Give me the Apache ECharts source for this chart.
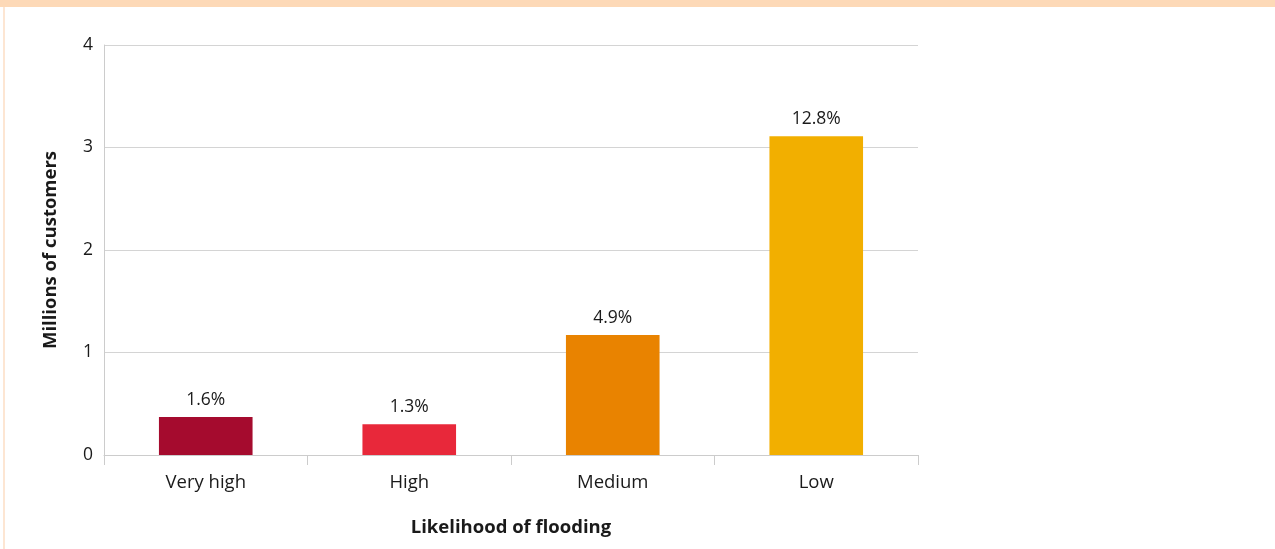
<!DOCTYPE html>
<html>
<head>
<meta charset="utf-8">
<script src="https://cdn.jsdelivr.net/npm/echarts@6/dist/echarts.min.js"></script>
<style>
  html, body { margin: 0; padding: 0; background: #ffffff; }
  #chart { width: 1275px; height: 549px; }
</style>
</head>
<body>
<div id="chart"></div>
<script>
// Flood likelihood categories and customer counts (millions)
const categories = ['Very high', 'High', 'Medium', 'Low'];
const customers = [0.37, 0.30, 1.17, 3.11];
const shareLabels = ['1.6%', '1.3%', '4.9%', '12.8%'];
const barColors = ['#a50b2e', '#e8283a', '#e98300', '#f2af00'];
const yTicks = [0, 1, 2, 3, 4];

const fontFamily = '"Open Sans", "Noto Sans", sans-serif';
const chart = echarts.init(document.getElementById('chart'), null, { renderer: 'canvas' });

chart.setOption({
  backgroundColor: '#ffffff',
  animation: false,
  graphic: [
    { type: 'rect', left: 0, top: 0, shape: { width: 1275, height: 7 }, style: { fill: '#fdd9b7' }, z: 10 },
    { type: 'rect', left: 3, top: 7, shape: { width: 2, height: 542 }, style: { fill: '#fde6d3' }, z: 10 }
  ],
  grid: { left: 104, right: 357, top: 45, bottom: 94 },
  xAxis: {
    type: 'category',
    data: categories,
    name: 'Likelihood of flooding',
    nameLocation: 'middle',
    nameGap: 63,
    nameTextStyle: { fontFamily, fontSize: 18.5, fontWeight: 'bold', color: '#1a1a1a' },
    axisLine: { lineStyle: { color: '#cccccc', width: 1 } },
    axisTick: { show: true, length: 10, lineStyle: { color: '#cccccc' } },
    axisLabel: { fontFamily, fontSize: 18.5, color: '#1a1a1a', margin: 18 }
  },
  yAxis: {
    type: 'value',
    min: yTicks[0],
    max: yTicks[yTicks.length - 1],
    interval: 1,
    name: 'Millions of customers',
    nameLocation: 'middle',
    nameGap: 44,
    nameTextStyle: { fontFamily, fontSize: 18.5, fontWeight: 'bold', color: '#1a1a1a' },
    axisLine: { show: true, lineStyle: { color: '#cccccc', width: 1 } },
    axisTick: { show: false },
    splitLine: { lineStyle: { color: '#d4d4d4', width: 1 } },
    axisLabel: { fontFamily, fontSize: 17.5, color: '#1a1a1a', margin: 11 }
  },
  series: [{
    type: 'bar',
    barWidth: '46%',
    data: customers.map((v, i) => ({
      value: v,
      itemStyle: { color: barColors[i] },
      label: { formatter: shareLabels[i] }
    })),
    label: {
      show: true,
      position: 'top',
      distance: 8,
      fontFamily,
      fontSize: 17.5,
      color: '#1a1a1a'
    }
  }]
});
</script>
</body>
</html>
